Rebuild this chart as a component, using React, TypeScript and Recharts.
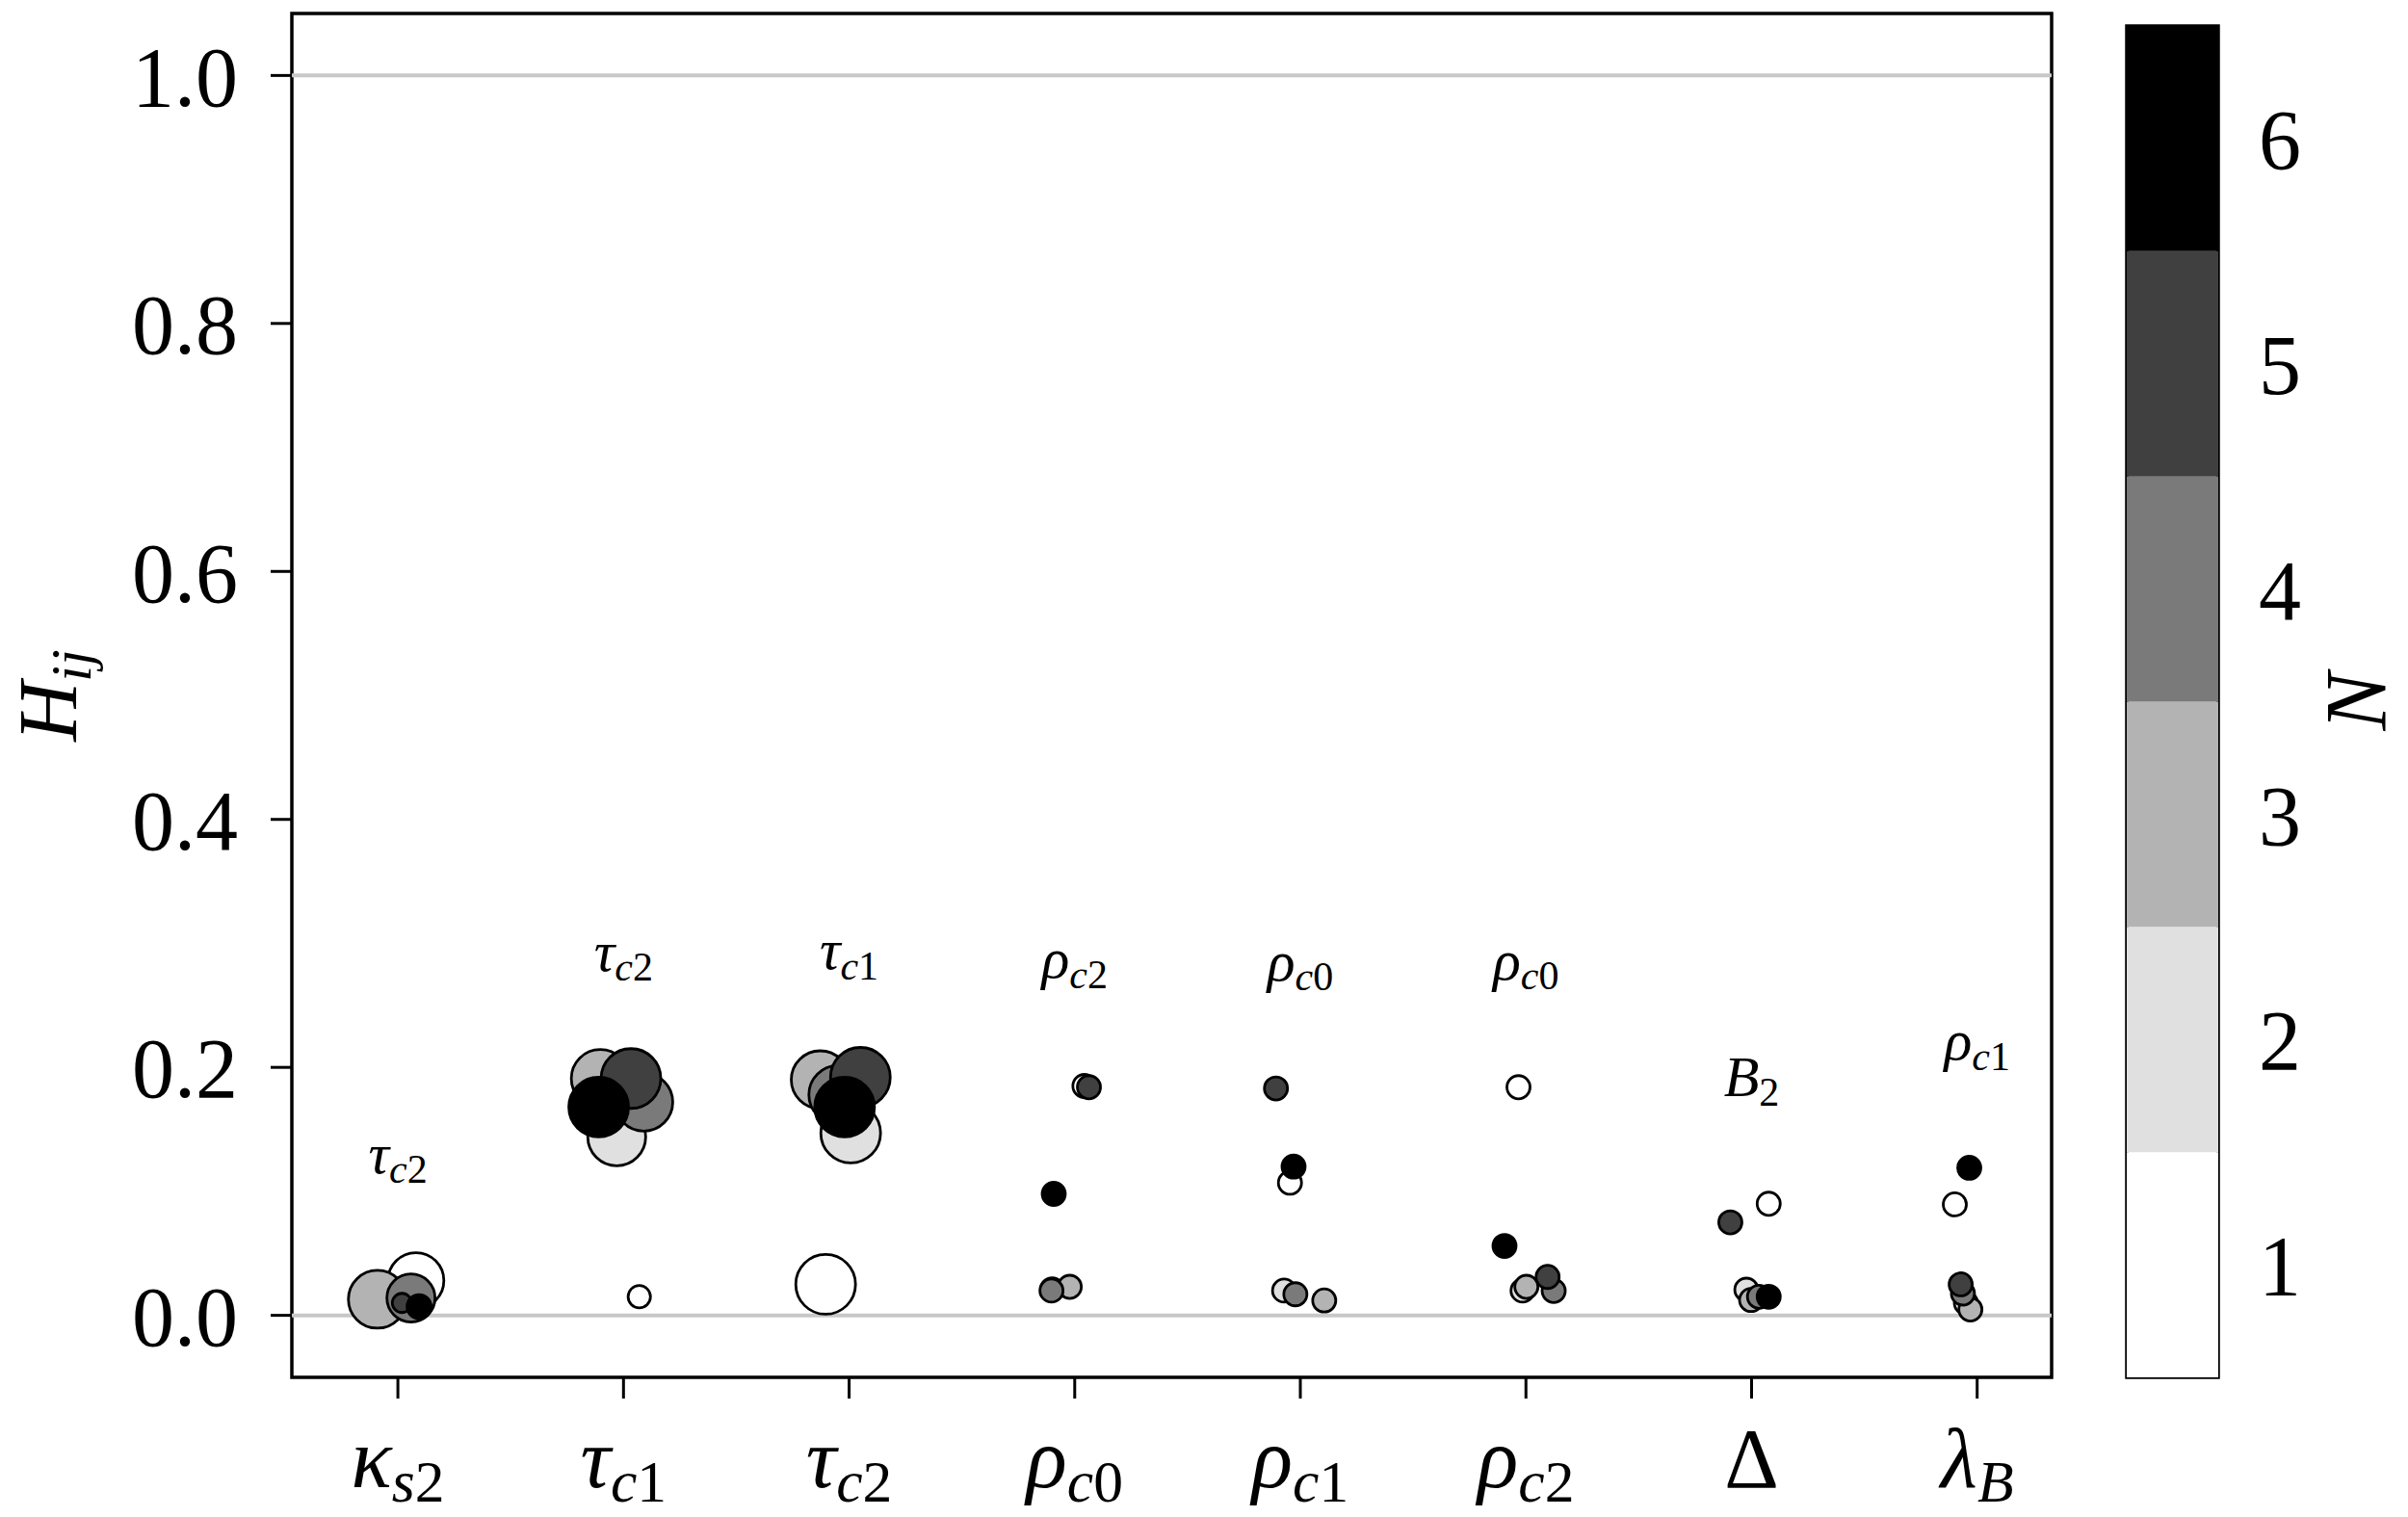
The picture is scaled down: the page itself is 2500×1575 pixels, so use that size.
import React from 'react';
import { ScatterChart, Scatter, XAxis, YAxis, ZAxis, ReferenceLine, ReferenceArea, BarChart, Bar } from 'recharts';

const FONT = "'Liberation Serif', 'DejaVu Serif', serif";

// parameter on the x axis: [symbol, subscript]
const paramLabels: [string, string][] = [
  ['κ', 's2'], ['τ', 'c1'], ['τ', 'c2'], ['ρ', 'c0'], ['ρ', 'c1'], ['ρ', 'c2'], ['Δ', ''], ['λ', 'B'],
];
// partner parameter written above each cluster
const partnerLabels: [string, string][] = [
  ['τ', 'c2'], ['τ', 'c2'], ['τ', 'c1'], ['ρ', 'c2'], ['ρ', 'c0'], ['ρ', 'c0'], ['B', '2'], ['ρ', 'c1'],
];

const yTicks = [0, 0.2, 0.4, 0.6, 0.8, 1.0];
const nLevels = [1, 2, 3, 4, 5, 6];
const nColors = ['#ffffff', '#e0e0e0', '#b3b3b3', '#7a7a7a', '#404040', '#000000'];

// jittered x position, H_ij value and marker weight, one entry per parameter
const xN1 = [0.08, 1.07, 1.896, 3.043, 3.954, 4.967, 6.076, 6.901];
const hN1 = [0.028, 0.015, 0.025, 0.185, 0.107, 0.184, 0.09, 0.0895];
const wN1 = [0.875, 0.14, 1.0, 0.15, 0.15, 0.15, 0.15, 0.15];

const xN2 = [0.0, 0.97, 2.007, 2.9, 3.928, 4.985, 5.977, 6.95];
const hN2 = [0.012, 0.144, 0.147, 0.021, 0.02, 0.02, 0.0207, 0.01];
const wN2 = [0.1, 0.94, 1.0, 0.15, 0.15, 0.15, 0.15, 0.15];

const xN3 = [-0.091, 0.897, 1.872, 2.978, 4.106, 5.002, 5.998, 6.97];
const hN3 = [0.013, 0.191, 0.19, 0.023, 0.012, 0.023, 0.0124, 0.0047];
const wN3 = [0.94, 0.94, 0.94, 0.15, 0.15, 0.15, 0.15, 0.15];

const xN4 = [0.058, 1.09, 1.95, 2.897, 3.978, 5.123, 6.033, 6.937];
const hN4 = [0.014, 0.172, 0.178, 0.02, 0.017, 0.0197, 0.015, 0.0176];
const wN4 = [0.65, 0.94, 0.94, 0.15, 0.15, 0.15, 0.15, 0.15];

const xN5 = [0.018, 1.033, 2.05, 3.063, 3.892, 5.096, 5.906, 6.927];
const hN5 = [0.01, 0.191, 0.192, 0.184, 0.183, 0.031, 0.075, 0.025];
const wN5 = [0.104, 1.0, 1.0, 0.15, 0.15, 0.15, 0.15, 0.15];

const xN6 = [0.094, 0.89, 1.98, 2.907, 3.97, 4.905, 6.076, 6.965];
const hN6 = [0.007, 0.168, 0.168, 0.098, 0.12, 0.056, 0.015, 0.119];
const wN6 = [0.163, 1.0, 1.0, 0.15, 0.15, 0.15, 0.15, 0.15];

const seriesX = [xN1, xN2, xN3, xN4, xN5, xN6];
const seriesH = [hN1, hN2, hN3, hN4, hN5, hN6];
const seriesW = [wN1, wN2, wN3, wN4, wN5, wN6];

const series = seriesX.map((xs, k) =>
  xs.map((x, i) => ({ x, y: seriesH[k][i], w: seriesW[k][i] }))
);

const annotations = partnerLabels.map((_, i) => ({
  x: i,
  y: Math.max(...seriesH.map((h) => h[i])) + 0.087,
  w: 0,
}));

// one band per N level for the colour bar
const colorbarRow: Record<string, number | string> = { name: 'N' };
nLevels.forEach((n) => { colorbarRow[`n${n}`] = 1; });
const colorbarData = [colorbarRow];

const MathLabel = ({ x, y, base, sub, size }: { x: number; y: number; base: string; sub: string; size: number }) => (
  <text x={x} y={y} textAnchor="middle" fontFamily={FONT} fontSize={size} fill="#000">
    <tspan fontStyle={base === 'Δ' ? 'normal' : 'italic'}>{base}</tspan>
    {sub.split('').map((ch, j) => (
      <tspan
        key={j}
        fontSize={size * 0.7}
        fontStyle={/[0-9]/.test(ch) ? 'normal' : 'italic'}
        dy={j === 0 ? size * 0.17 : undefined}
      >
        {ch}
      </tspan>
    ))}
  </text>
);

const XTick = (props: any) => {
  const { x, y, payload } = props;
  const [base, sub] = paramLabels[payload.value] || ['', ''];
  return <MathLabel x={x} y={y + 90} base={base} sub={sub} size={88} />;
};

const AnnotationShape = (props: any) => {
  const idx = props.payload?.x ?? 0;
  const [base, sub] = partnerLabels[idx];
  return <MathLabel x={props.cx} y={props.cy} base={base} sub={sub} size={60} />;
};

const YLabel = (props: any) => {
  const vb = props.viewBox || { x: 0, y: 14, width: 303, height: 1416 };
  const x = vb.x + 79;
  const y = vb.y + vb.height / 2;
  return (
    <text x={x} y={y} transform={`rotate(-90, ${x}, ${y})`} textAnchor="middle" fontFamily={FONT} fontSize={86} fill="#000">
      <tspan fontStyle="italic">H</tspan>
      <tspan fontStyle="italic" fontSize={60} dy={15}>ij</tspan>
    </text>
  );
};

const NLabel = (props: any) => {
  const vb = props.viewBox || { x: 163, y: 27, width: 197, height: 1403 };
  const x = vb.x + 174;
  const y = vb.y + vb.height / 2;
  return (
    <text x={x} y={y} transform={`rotate(-90, ${x}, ${y})`} textAnchor="middle" fontFamily={FONT} fontSize={90} fontStyle="italic" fill="#000">
      N
    </text>
  );
};

const tickStyle = { fontSize: 88, fill: '#000', fontFamily: FONT };

const App = () => {
  return (
    <div style={{ position: 'absolute', left: 0, top: 0, width: 2500, height: 1575, background: '#fff' }}>
      <div style={{ position: 'absolute', left: 0, top: 0 }}>
        <ScatterChart width={2140} height={1575} margin={{ top: 14, right: 10, bottom: 0, left: 0 }}>
          <XAxis
            type="number"
            dataKey="x"
            domain={[-0.47, 7.33]}
            ticks={[0, 1, 2, 3, 4, 5, 6, 7]}
            height={145}
            tickSize={22}
            axisLine={false}
            tickLine={{ stroke: '#000', strokeWidth: 3 }}
            tick={<XTick />}
            allowDataOverflow
          />
          <YAxis
            type="number"
            dataKey="y"
            domain={[-0.05, 1.05]}
            ticks={yTicks}
            width={303}
            tickSize={22}
            tickMargin={34}
            axisLine={false}
            tickLine={{ stroke: '#000', strokeWidth: 3 }}
            tick={tickStyle}
            tickFormatter={(v: number) => v.toFixed(1)}
            label={<YLabel />}
            allowDataOverflow
          />
          <ZAxis type="number" dataKey="w" domain={[0, 1]} range={[0, 3019]} />
          <ReferenceLine y={0} stroke="#c8c8c8" strokeWidth={4} />
          <ReferenceLine y={1} stroke="#c8c8c8" strokeWidth={4} />
          {series.map((data, k) => (
            <Scatter
              key={k}
              name={`N=${nLevels[k]}`}
              data={data}
              fill={nColors[k]}
              stroke="#000"
              strokeWidth={2.8}
              isAnimationActive={false}
            />
          ))}
          <Scatter data={annotations} shape={<AnnotationShape />} isAnimationActive={false} />
          <ReferenceArea x1={-0.47} x2={7.33} y1={-0.05} y2={1.05} fill="none" stroke="#000" strokeWidth={3.5} />
        </ScatterChart>
      </div>
      <div style={{ position: 'absolute', left: 2140, top: 0 }}>
        <BarChart
          width={360}
          height={1575}
          data={colorbarData}
          margin={{ top: 27, right: 0, bottom: 145, left: 68 }}
          barCategoryGap={0}
          barGap={0}
        >
          <XAxis dataKey="name" hide />
          <YAxis
            type="number"
            orientation="right"
            domain={[0, 6]}
            ticks={nLevels.map((n) => n - 0.5)}
            tickFormatter={(v: number) => String(v + 0.5)}
            width={197}
            tickSize={0}
            tickLine={false}
            axisLine={false}
            tickMargin={42}
            tick={tickStyle}
            label={<NLabel />}
          />
          {nLevels.map((n, i) => (
            <Bar key={n} dataKey={`n${n}`} stackId="cb" fill={nColors[i]} isAnimationActive={false} />
          ))}
          <ReferenceArea y1={0} y2={6} fill="none" stroke="#000" strokeWidth={3.5} />
        </BarChart>
      </div>
    </div>
  );
};

export default App;
